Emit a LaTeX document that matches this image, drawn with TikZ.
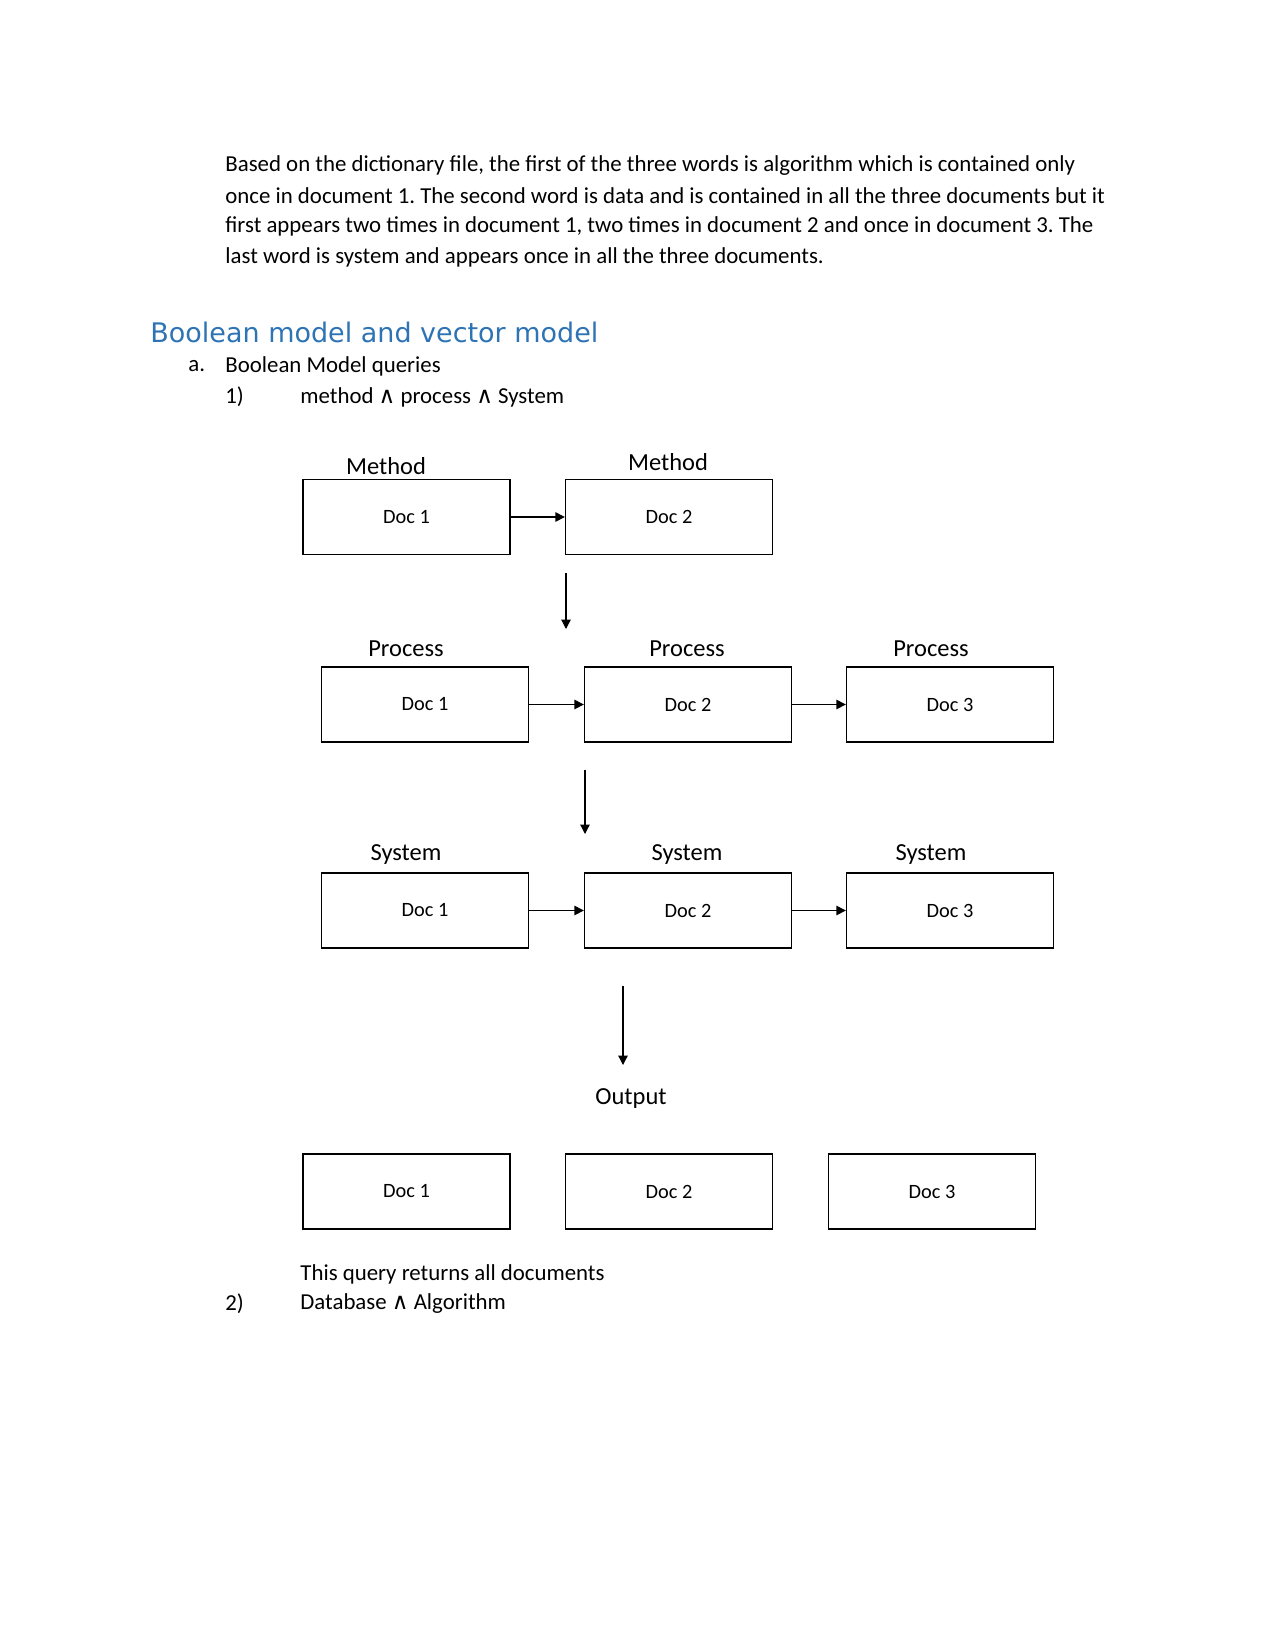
\documentclass[tikz,border=0pt]{standalone}
\usepackage{fontspec}
\setmainfont{Carlito}
\newfontfamily\headfont{DejaVu Sans}
\newcommand\andsym{{\headfont ∧}}
\usetikzlibrary{shapes,arrows,arrows.meta,calc,positioning}
\definecolor{headblue}{RGB}{46,116,181}
\frenchspacing

\begin{document}
\begin{tikzpicture}[>={Triangle[length=4.5bp,width=4.5bp]}, x=0.48bp, y=-0.48bp,
  doc/.style={draw, line width=0.6pt, minimum width=99.4bp, minimum height=36bp, inner sep=0pt, font=\fontsize{9.8}{11}\selectfont},
  lbl/.style={inner sep=0pt, font=\fontsize{11.8}{13}\selectfont},
  txt/.style={anchor=west, inner sep=0pt, font=\fontsize{11}{13}\selectfont}]
  \useasboundingbox (0,0) rectangle (1275,1650);
  % Text
  \node[txt] (p1) at (225,166) {Based on the dictionary file, the first of the three words is algorithm which is contained only};
  \node[txt] (p2) at (225,196) {once in document 1. The second word is data and is contained in all the three documents but it};
  \node[txt] (p3) at (225,226) {first appears two times in document 1, two times in document 2 and once in document 3. The};
  \node[txt] (p4) at (225,257) {last word is system and appears once in all the three documents.};
  \node[txt, font=\headfont\fontsize{13}{15}\selectfont, text=headblue] (head) at (150,332) {Boolean model and vector model};
  \node[txt] (itema) at (188,366) {a.};
  \node[txt] (qa) at (225,366) {Boolean Model queries};
  \node[txt] (n1) at (225,397) {1)};
  \node[txt] (q1) at (300,397) {method \andsym{} process \andsym{} System};
  % Nodes
  \node[doc] (m1) at (406.5,517) {Doc 1};
  \node[doc] (m2) at (669,517) {Doc 2};
  \node[lbl] (lm1) at (386,466) {Method};
  \node[lbl] (lm2) at (668,462) {Method};
  \node[doc] (p1d) at (425,704.5) {Doc 1};
  \node[doc] (p2d) at (688,704.5) {Doc 2};
  \node[doc] (p3d) at (950,704.5) {Doc 3};
  \foreach \x in {406,687,931} \node[lbl] at (\x,649) {Process};
  \node[doc] (s1) at (425,910.5) {Doc 1};
  \node[doc] (s2) at (688,910.5) {Doc 2};
  \node[doc] (s3) at (950,910.5) {Doc 3};
  \foreach \x in {406,687,931} \node[lbl] at (\x,855) {System};
  \node[lbl] (out) at (631,1099) {Output};
  \node[doc] (o1) at (406.5,1191.5) {Doc 1};
  \node[doc] (o2) at (669,1191.5) {Doc 2};
  \node[doc] (o3) at (932,1191.5) {Doc 3};
  \node[txt] (res) at (300,1274) {This query returns all documents};
  \node[txt] (n2) at (225,1304) {2)};
  \node[txt] (q2) at (300,1304) {Database \andsym{} Algorithm};
  % Edges
  \coordinate (a1) at (566,573);
  \coordinate (b1) at (566,629);
  \coordinate (a2) at (585,770);
  \coordinate (b2) at (585,834);
  \coordinate (a3) at (623,986);
  \coordinate (b3) at (623,1065);
  \draw[->, line width=0.6pt] (m1) -- (m2);
  \draw[->, line width=0.6pt] (p1d) -- (p2d);
  \draw[->, line width=0.6pt] (p2d) -- (p3d);
  \draw[->, line width=0.6pt] (s1) -- (s2);
  \draw[->, line width=0.6pt] (s2) -- (s3);
  \draw[->, line width=0.6pt] (a1) -- (b1);
  \draw[->, line width=0.6pt] (a2) -- (b2);
  \draw[->, line width=0.6pt] (a3) -- (b3);
\end{tikzpicture}
\end{document}
